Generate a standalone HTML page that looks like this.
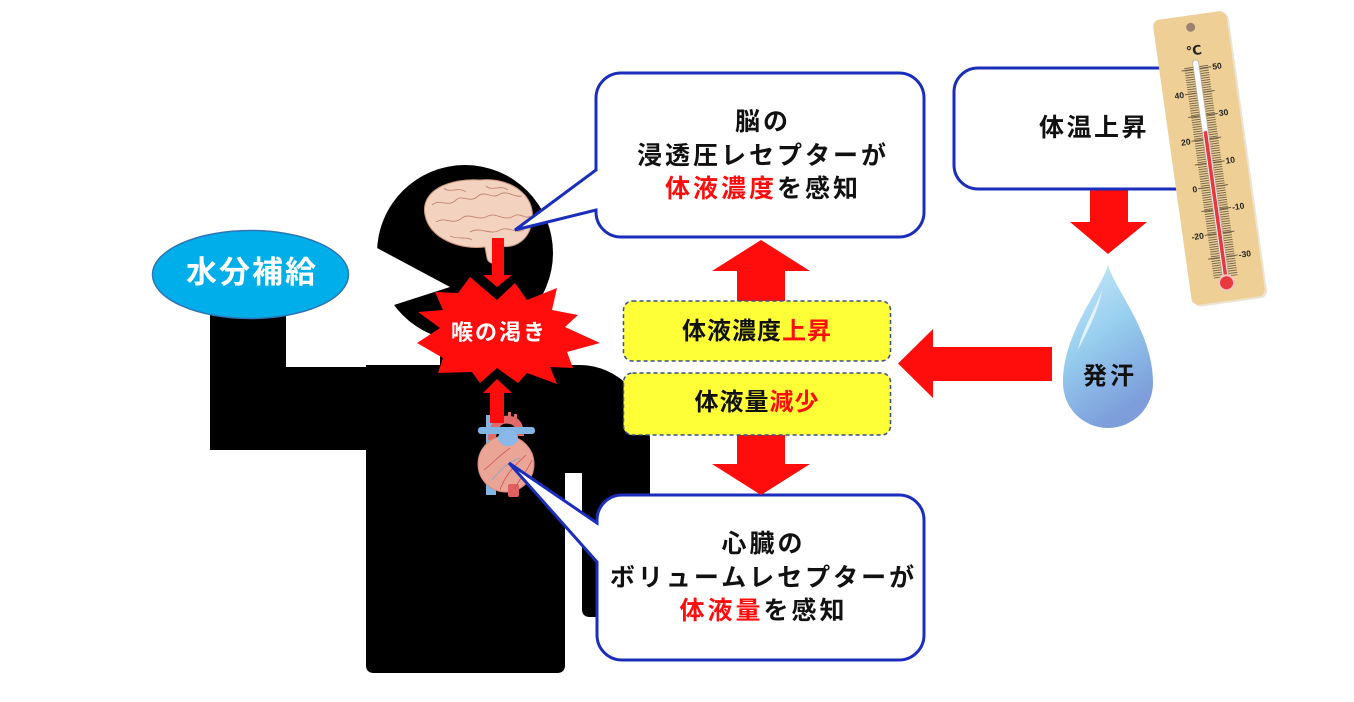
<!DOCTYPE html>
<html>
<head>
<meta charset="utf-8">
<style>
html,body{margin:0;padding:0;background:#fff;}
#wrap{position:relative;width:1354px;height:702px;overflow:hidden;background:#fff;}
svg{position:absolute;left:0;top:0;}
.t{position:absolute;font-family:"Liberation Sans","Noto Sans CJK JP",sans-serif;font-weight:bold;text-align:center;white-space:nowrap;color:#111;}
.r{color:#ff0d0d;}
</style>
</head>
<body>
<div id="wrap">
<svg width="1354" height="702" viewBox="0 0 1354 702" xmlns="http://www.w3.org/2000/svg">
  <defs>
    <pattern id="tk" x="0" y="0.3" width="10" height="2.375" patternUnits="userSpaceOnUse">
      <rect x="0" y="0" width="10" height="0.9" fill="#6e6048"/>
    </pattern>
    <linearGradient id="drop" x1="0" y1="0" x2="0.4" y2="1">
      <stop offset="0" stop-color="#cdebfa"/>
      <stop offset="0.5" stop-color="#98cfef"/>
      <stop offset="1" stop-color="#7d9edb"/>
    </linearGradient>
  </defs>

  <!-- person silhouette -->
  <rect x="210" y="295" width="76" height="155" fill="#000"/>
  <rect x="210" y="367" width="160" height="83" fill="#000"/>
  <rect x="440" y="320" width="80" height="50" fill="#000"/>
  <path d="M366,365 H580 A70 75 0 0 1 650,440 V609 Q650,617 642,617 H590 Q582,617 582,609 V473 H565 V665 Q565,673 557,673 H374 Q366,673 366,665 Z" fill="#000"/>
  <circle cx="465" cy="253" r="88" fill="#000"/>
  <polygon points="377,248 450,287 394,305 370,308 365,248" fill="#fff"/>

  <!-- brain -->
  <path d="M425,215 C420,190 450,178 480,180 C510,177 536,195 532,220 C530,240 515,249 500,246 L498,262 C494,265 488,263 487,258 L485,247 C462,250 430,240 425,215 Z" fill="#f3d3bf" stroke="#c9957f" stroke-width="1"/>
  <g fill="none" stroke="#c08873" stroke-width="0.9">
    <path d="M432,205 C440,198 448,208 456,200 C462,194 470,204 478,196 C486,190 492,200 500,194 C508,190 514,198 522,196"/>
    <path d="M436,222 C446,216 452,226 462,218 C470,212 478,222 488,216 C496,212 504,222 514,216 C520,212 526,220 530,216"/>
    <path d="M444,188 C450,194 458,186 466,192 M486,186 C492,192 500,184 508,190"/>
    <path d="M470,232 C480,226 490,236 500,230 C508,226 516,234 524,230"/>
    <path d="M450,236 C458,240 466,236 472,240"/>
  </g>

  <!-- heart -->
  <rect x="486" y="415" width="10" height="80" fill="#82b6e2"/>
  <path d="M492,440 C492,425 500,418 510,420 C518,421 520,428 520,436" fill="none" stroke="#e06b6b" stroke-width="8"/>
  <rect x="508" y="412" width="3" height="10" fill="#e06b6b"/>
  <rect x="514" y="414" width="3" height="9" fill="#e06b6b"/>
  <ellipse cx="506" cy="464" rx="28" ry="28" fill="#eba596" stroke="#d88876" stroke-width="1"/>
  <rect x="478" y="427" width="57" height="7" rx="3" fill="#82b6e2"/>
  <ellipse cx="508" cy="438" rx="10" ry="8" fill="#8ab8ea"/>
  <rect x="508" y="484" width="11" height="13" rx="2" fill="#e06060"/>
  <path d="M484,470 C494,462 500,455 510,448 M500,490 C505,475 515,465 526,455 M515,488 C520,478 528,470 532,460" fill="none" stroke="#d0505a" stroke-width="0.8"/>
  <path d="M492,480 C500,470 508,462 520,458" fill="none" stroke="#7aa8d8" stroke-width="0.8"/>

  <!-- red arrows -->
  <polygon points="492,238 504,238 504,275 512,275 497,287 483,275 492,275" fill="#ff0d0d"/>
  <polygon points="490,423 504,423 504,393 512,393 497,379 483,393 490,393" fill="#ff0d0d"/>

  <!-- starburst -->
  <polygon points="470,277 497,300 515,283 527,300 557,288 552,310 578,315 565,327 600,343 567,352 573,368 550,367 557,384 527,373 518,383 497,368 480,383 472,372 438,373 443,358 417,343 440,328 418,312 443,310 435,292 458,293" fill="#ff0d0d"/>

  <!-- ellipse 水分補給 -->
  <ellipse cx="250.5" cy="274.5" rx="98" ry="44" fill="#00aeea" stroke="#2e75b6" stroke-width="1.5"/>

  <!-- callouts -->
  <path d="M621,73 H899 A25 25 0 0 1 924,98 V212 A25 25 0 0 1 899,237 H621 A25 25 0 0 1 596,212 V210 L515,230 L596,170 V98 A25 25 0 0 1 621,73 Z" fill="#fff" stroke="#1a2ebb" stroke-width="3" stroke-linejoin="miter"/>
  <path d="M622,495 H899 A25 25 0 0 1 924,520 V635 A25 25 0 0 1 899,660 H622 A25 25 0 0 1 597,635 V562 L509,463 L597,523 V520 A25 25 0 0 1 622,495 Z" fill="#fff" stroke="#1a2ebb" stroke-width="3" stroke-linejoin="miter"/>

  <!-- arrows center -->
  <polygon points="737,302 737,271 712,271 761,240 810,271 785,271 785,302" fill="#ff0d0d"/>
  <polygon points="737,434 785,434 785,464 810,464 761,495 712,464 737,464" fill="#ff0d0d"/>
  <polygon points="1052,347 933,347 933,329 898,363.5 933,398 933,381 1052,381" fill="#ff0d0d"/>
  <polygon points="1090,189 1128,189 1128,222 1147,222 1108,254 1070,222 1090,222" fill="#ff0d0d"/>

  <!-- yellow boxes -->
  <rect x="623.5" y="301" width="267" height="60" rx="9" fill="#ffff38" stroke="#34508c" stroke-width="1.5" stroke-dasharray="4 3"/>
  <rect x="623.5" y="373" width="267" height="62" rx="9" fill="#ffff38" stroke="#34508c" stroke-width="1.5" stroke-dasharray="4 3"/>

  <!-- body temp box -->
  <rect x="954" y="68" width="250" height="121" rx="24" fill="#fff" stroke="#1a2ebb" stroke-width="3"/>

  <!-- droplet -->
  <path d="M1108,265 C1100,292 1063,332 1063,383 A45 45 0 0 0 1153,383 C1153,332 1116,292 1108,265 Z" fill="url(#drop)"/>
  <path d="M1102,290 C1095,310 1082,330 1078,350 C1088,330 1098,312 1102,290 Z" fill="#ffffff" opacity="0.7"/>

  <!-- thermometer -->
  <g transform="translate(1209,158) rotate(-8)">
    <rect x="-35" y="-142" width="74" height="288" rx="7" fill="#d9c8a8" opacity="0.5"/>
    <rect x="-37" y="-144" width="74" height="288" rx="7" fill="#eecf96"/>
    <circle cx="0" cy="-132" r="4.5" fill="#9e8270"/>
    <text x="0" y="-104" font-family="Liberation Sans, DejaVu Sans, sans-serif" font-size="13" font-weight="bold" text-anchor="middle" fill="#222">℃</text>
    <rect x="-12" y="-93" width="9" height="213" fill="url(#tk)"/>
    <rect x="3" y="-93" width="9" height="213" fill="url(#tk)"/>
    <g stroke="#6e6048" stroke-width="1">
      <line x1="-15" y1="-90" x2="15" y2="-90"/>
      <line x1="-15" y1="-66" x2="15" y2="-66"/>
      <line x1="-15" y1="-43" x2="15" y2="-43"/>
      <line x1="-15" y1="-19" x2="15" y2="-19"/>
      <line x1="-15" y1="5" x2="15" y2="5"/>
      <line x1="-15" y1="29" x2="15" y2="29"/>
      <line x1="-15" y1="52" x2="15" y2="52"/>
      <line x1="-15" y1="76" x2="15" y2="76"/>
      <line x1="-15" y1="100" x2="15" y2="100"/>
    </g>
    <g font-family="Liberation Sans, DejaVu Sans, sans-serif" font-size="8.5" font-weight="bold" fill="#222">
      <text x="16" y="-87">50</text>
      <text x="16" y="-40">30</text>
      <text x="16" y="8">10</text>
      <text x="16" y="55">-10</text>
      <text x="16" y="103">-30</text>
      <text x="-16" y="-63" text-anchor="end">40</text>
      <text x="-16" y="-16" text-anchor="end">20</text>
      <text x="-16" y="32" text-anchor="end">0</text>
      <text x="-16" y="79" text-anchor="end">-20</text>
    </g>
    <rect x="-3" y="-99" width="6" height="226" rx="3" fill="#fff" stroke="#b8b0a0" stroke-width="0.8"/>
    <rect x="-1.8" y="-27" width="3.6" height="150" fill="#e8393e"/>
    <circle cx="0" cy="126" r="7.5" fill="#e8393e" stroke="#f6c4c0" stroke-width="2"/>
  </g>
</svg>

<div class="t" style="left:150px;top:255px;width:200px;font-size:31px;line-height:36px;letter-spacing:2px;color:#fff;padding-left:2px;">水分補給</div>
<div class="t" style="left:447px;top:320px;width:100px;font-size:22px;line-height:26px;letter-spacing:2px;color:#fff;padding-left:2px;">喉の渇き</div>

<div class="t" style="left:596px;top:106px;width:328px;font-size:25px;line-height:33.5px;letter-spacing:3px;padding-left:3px;">脳の<br>浸透圧レセプターが<br><span class="r">体液濃度</span>を感知</div>
<div class="t" style="left:597px;top:528px;width:327px;font-size:25px;line-height:33.5px;letter-spacing:3px;padding-left:3px;">心臓の<br>ボリュームレセプターが<br><span class="r">体液量</span>を感知</div>

<div class="t" style="left:623px;top:317px;width:268px;font-size:24px;line-height:30px;letter-spacing:1px;">体液濃度<span class="r">上昇</span></div>
<div class="t" style="left:623px;top:388px;width:268px;font-size:24px;line-height:30px;letter-spacing:1px;">体液量<span class="r">減少</span></div>

<div class="t" style="left:992px;top:113px;width:200px;font-size:25px;line-height:30px;letter-spacing:2.5px;padding-left:2px;">体温上昇</div>
<div class="t" style="left:1057px;top:362px;width:100px;font-size:24px;line-height:30px;letter-spacing:3px;padding-left:3px;">発汗</div>
</div>
</body>
</html>
